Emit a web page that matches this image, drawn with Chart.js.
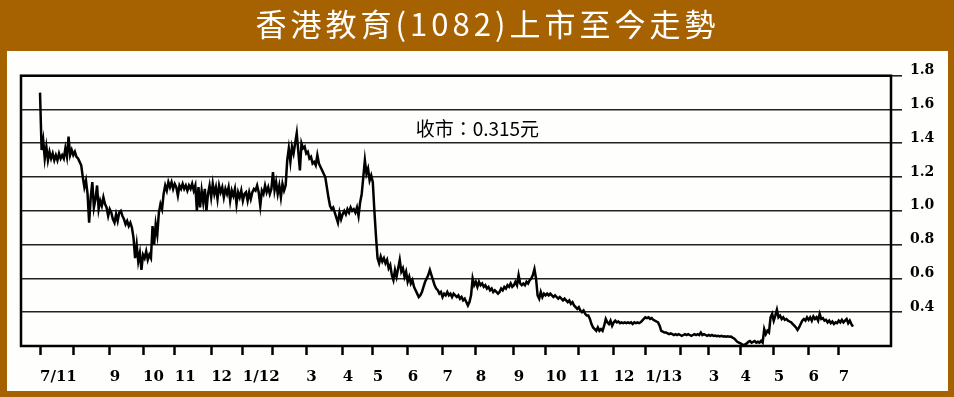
<!DOCTYPE html>
<html>
<head>
<meta charset="utf-8">
<script src="https://cdn.jsdelivr.net/npm/chart.js@4.4.1/dist/chart.umd.min.js"></script>
<style>
  html, body { margin: 0; padding: 0; background: #A66200; }
  canvas { display: block; }
</style>
</head>
<body>
<canvas id="c" width="954" height="397"></canvas>
<script>
// ---- data ----
const titleText = '香港教育(1082)上市至今走勢';
const closeLabelPrefix = '收市：';
const closeLabelSuffix = '元';
// trading-day index of each month start, and its label
const monthTickDays = [0,21,44,65,85,108,128,147,168,191,210,232,254,275,299,319,340,362,382,404,422,442,463,485,504];
const monthTickLabels = ['7/11','','9','10','11','12','1/12','','3','4','5','6','7','8','9','10','11','12','1/13','','3','4','5','6','7'];
const yTickValues = [0.4,0.6,0.8,1.0,1.2,1.4,1.6,1.8];
// daily prices (HK$), one per trading day from listing
const prices = [
1.70,1.36,1.42,1.31,1.38,1.30,1.35,1.31,1.34,1.30,
1.33,1.30,1.34,1.31,1.33,1.31,1.37,1.32,1.44,1.33,
1.36,1.33,1.35,1.32,1.31,1.29,1.27,1.20,1.14,1.18,
1.10,0.93,1.08,1.17,1.02,1.07,1.15,1.01,1.06,1.03,
1.08,1.04,1.02,0.97,1.01,0.99,0.95,0.93,0.98,0.94,
0.99,1.00,0.97,0.95,0.92,0.94,0.91,0.93,0.90,0.84,
0.72,0.80,0.70,0.75,0.65,0.74,0.72,0.76,0.71,0.74,
0.72,0.91,0.80,0.92,0.86,0.99,1.04,1.01,1.10,1.15,
1.12,1.17,1.14,1.17,1.13,1.16,1.14,1.09,1.15,1.13,
1.16,1.13,1.15,1.12,1.15,1.13,1.16,1.12,1.15,1.00,
1.14,1.02,1.12,1.05,1.13,1.00,1.10,1.15,1.08,1.16,
1.10,1.14,1.07,1.15,1.11,1.14,1.08,1.13,1.10,1.14,
1.06,1.12,1.09,1.13,1.04,1.11,1.08,1.12,1.06,1.10,
1.11,1.06,1.11,1.07,1.11,1.13,1.12,1.15,1.11,1.03,
1.12,1.10,1.15,1.11,1.14,1.10,1.13,1.23,1.12,1.17,
1.10,1.15,1.08,1.16,1.12,1.15,1.30,1.37,1.29,1.38,
1.34,1.40,1.46,1.35,1.24,1.40,1.37,1.38,1.34,1.35,
1.31,1.32,1.28,1.29,1.27,1.33,1.28,1.26,1.24,1.22,
1.20,1.14,1.08,1.03,1.01,1.02,0.99,0.96,0.93,0.99,
0.95,0.98,1.00,0.98,1.01,0.99,1.02,1.00,1.01,0.99,
1.02,0.97,1.05,1.10,1.20,1.30,1.22,1.25,1.18,1.21,
1.17,1.00,0.85,0.72,0.69,0.73,0.70,0.72,0.69,0.71,
0.66,0.68,0.62,0.59,0.65,0.61,0.66,0.71,0.64,0.66,
0.61,0.64,0.58,0.61,0.57,0.59,0.55,0.53,0.51,0.49,
0.50,0.52,0.55,0.58,0.60,0.62,0.65,0.62,0.59,0.56,
0.54,0.53,0.51,0.52,0.49,0.51,0.50,0.52,0.50,0.51,
0.49,0.51,0.50,0.49,0.50,0.48,0.49,0.47,0.48,0.46,
0.44,0.46,0.50,0.60,0.56,0.58,0.55,0.58,0.56,0.57,
0.55,0.56,0.54,0.55,0.53,0.54,0.52,0.53,0.52,0.51,
0.52,0.54,0.53,0.55,0.54,0.56,0.55,0.57,0.55,0.56,
0.58,0.56,0.62,0.57,0.56,0.57,0.56,0.58,0.57,0.59,
0.60,0.62,0.655,0.60,0.50,0.48,0.52,0.49,0.51,0.50,
0.51,0.50,0.51,0.50,0.49,0.50,0.49,0.48,0.49,0.48,
0.47,0.48,0.47,0.46,0.47,0.45,0.46,0.44,0.43,0.42,
0.43,0.41,0.40,0.41,0.39,0.38,0.38,0.36,0.33,0.31,
0.30,0.29,0.31,0.29,0.30,0.29,0.32,0.36,0.34,0.33,
0.35,0.32,0.34,0.35,0.34,0.345,0.335,0.34,0.335,0.34,
0.335,0.34,0.335,0.34,0.33,0.34,0.335,0.34,0.335,0.34,
0.35,0.36,0.37,0.365,0.37,0.36,0.365,0.355,0.35,0.345,
0.34,0.32,0.29,0.285,0.28,0.28,0.275,0.27,0.275,0.27,
0.265,0.27,0.265,0.27,0.265,0.26,0.265,0.27,0.265,0.27,
0.265,0.26,0.265,0.27,0.265,0.27,0.265,0.28,0.265,0.27,
0.265,0.26,0.265,0.26,0.265,0.26,0.262,0.258,0.26,0.257,
0.26,0.256,0.258,0.255,0.257,0.255,0.256,0.25,0.245,0.235,
0.225,0.22,0.215,0.21,0.205,0.21,0.215,0.225,0.23,0.22,
0.225,0.23,0.22,0.225,0.22,0.23,0.22,0.30,0.27,0.29,
0.28,0.37,0.39,0.35,0.38,0.415,0.37,0.38,0.36,0.37,
0.355,0.36,0.35,0.345,0.34,0.33,0.32,0.31,0.295,0.31,
0.33,0.35,0.36,0.35,0.37,0.355,0.37,0.35,0.375,0.36,
0.37,0.35,0.39,0.36,0.365,0.35,0.355,0.34,0.35,0.335,
0.345,0.33,0.34,0.335,0.35,0.34,0.355,0.34,0.35,0.36,
0.335,0.35,0.33,0.315
];
const closePrice = 0.315;
// where the closing-price note sits, in data units
const closeNoteDay = 276;
const closeNoteValue = 1.485;

// ---- styling ----
const BROWN = '#A66200';

const framePlugin = {
  id: 'frame',
  beforeDraw(chart) {
    const ctx = chart.ctx;
    ctx.save();
    ctx.fillStyle = BROWN;
    ctx.fillRect(0, 0, chart.width, chart.height);
    ctx.fillStyle = '#FEFEFC';
    ctx.fillRect(7, 51, 941, 340);
    ctx.restore();
    ctx.letterSpacing = '4px';   // title only (reset before datasets)
  },
  beforeDatasetsDraw(chart) {
    chart.ctx.letterSpacing = '0px';
  },
  afterDatasetsDraw(chart) {
    const {ctx, chartArea: a, scales} = chart;
    ctx.save();
    ctx.strokeStyle = '#000';
    ctx.lineWidth = 2.5;
    ctx.strokeRect(a.left, a.top, a.right - a.left, a.bottom - a.top);
    ctx.fillStyle = '#000';
    ctx.font = '19px "Noto Sans CJK TC"';
    ctx.textAlign = 'center';
    ctx.textBaseline = 'middle';
    ctx.fillText(closeLabelPrefix + closePrice.toFixed(3) + closeLabelSuffix,
      scales.x.getPixelForValue(closeNoteDay), scales.y.getPixelForValue(closeNoteValue));
    ctx.restore();
  }
};

new Chart(document.getElementById('c'), {
  type: 'line',
  data: {
    datasets: [{
      data: prices.map((p, i) => ({x: i, y: p})),
      borderColor: '#000',
      borderWidth: 2.5,
      pointRadius: 0,
      tension: 0,
      fill: false
    }]
  },
  options: {
    responsive: false,
    animation: false,
    devicePixelRatio: 1,
    layout: { padding: { left: 21, right: 0, top: 0, bottom: 0 } },
    plugins: {
      legend: { display: false },
      tooltip: { enabled: false },
      title: {
        display: true,
        text: titleText,
        color: '#FFFFFF',
        font: { family: '"Noto Sans CJK TC"', size: 31, weight: 'normal', lineHeight: 1.2 },
        padding: { top: 6, bottom: 32.5 }
      }
    },
    scales: {
      x: {
        type: 'linear',
        min: -12,
        max: 537,
        afterBuildTicks: (axis) => { axis.ticks = monthTickDays.map(v => ({value: v})); },
        afterFit: (axis) => { axis.height = 51; },
        grid: { drawOnChartArea: false, drawTicks: true, tickLength: 9, tickWidth: 2.5, tickColor: '#000' },
        border: { display: false },
        ticks: {
          z: 1,
          autoSkip: false,
          maxRotation: 0,
          minRotation: 0,
          align: 'start',
          padding: 13,
          color: '#000',
          font: { family: '"DejaVu Serif"', size: 15, weight: 'bold' },
          callback: (v, i) => monthTickLabels[i]
        }
      },
      y: {
        position: 'right',
        min: 0.2,
        max: 1.8,
        afterBuildTicks: (axis) => { axis.ticks = yTickValues.map(v => ({value: v})); },
        afterFit: (axis) => { axis.width = 63; },
        grid: { color: '#222', lineWidth: 1.6, drawTicks: true, tickLength: 11, tickColor: '#222' },
        border: { display: false },
        ticks: {
          z: 1,
          padding: 8,
          labelOffset: -5,
          color: '#000',
          font: { family: '"DejaVu Serif"', size: 14, weight: 'bold' },
          callback: (v) => Number(v).toFixed(1)
        }
      }
    }
  },
  plugins: [framePlugin]
});
</script>
</body>
</html>
